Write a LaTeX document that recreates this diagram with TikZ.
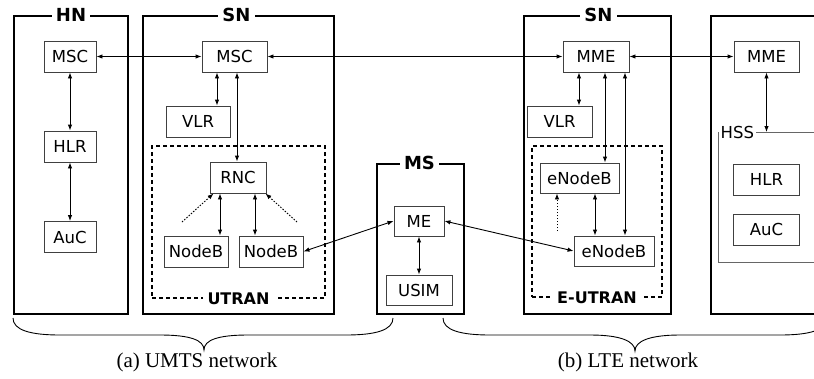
\documentclass[tikz,border=0pt]{standalone}
\usepackage{fontspec}
\usetikzlibrary{arrows.meta,calc,positioning}
\newfontfamily\boxfont{DejaVu Sans}
\newfontfamily\capfont{Liberation Serif}
\tikzset{
  >={Latex[length=6pt,width=4.5pt]},
  net/.style={draw, line width=2pt, anchor=north west, inner sep=0pt},
  netname/.style={fill=white, inner xsep=4pt, inner ysep=1pt, font=\boxfont\bfseries\fontsize{18}{20}\selectfont},
  ran/.style={draw, line width=2pt, dash pattern=on 4pt off 3pt, anchor=north west, inner sep=0pt},
  ranname/.style={fill=white, inner xsep=5pt, inner ysep=1pt, font=\boxfont\bfseries\fontsize{16}{18}\selectfont},
  blk/.style={draw=black!75, line width=0.9pt, minimum height=31pt, inner sep=0pt, font=\boxfont\fontsize{16.5}{18}\selectfont},
  link/.style={<->, line width=0.9pt},
  hint/.style={->, line width=0.9pt, dash pattern=on 1.5pt off 1.5pt},
}

\begin{document}
\begin{tikzpicture}[x=1pt,y=-1pt]
   \useasboundingbox (0,0) rectangle (814,378);
   \clip (0,0) rectangle (814,378);
   % network domains
   \node[net, minimum width=114pt, minimum height=298pt] (hn_a) at (13,15) {};
   \node[net, minimum width=191pt, minimum height=298pt] (sn_a) at (142,15) {};
   \node[net, minimum width=87pt, minimum height=150pt] (ms) at (376,163) {};
   \node[net, minimum width=147pt, minimum height=298pt] (sn_b) at (523,15) {};
   \node[net, minimum width=130pt, minimum height=298pt] (hn_b) at (710,15) {};
   \node[ran, minimum width=173pt, minimum height=152pt] (utran) at (151,145) {};
   \node[ran, minimum width=130pt, minimum height=151pt] (eutran) at (531,145) {};
   \node[draw=black!60, line width=0.8pt, anchor=north west, minimum width=120pt, minimum height=130pt] (hss) at (718,132) {};

   \node[netname] at (hn_a.north) {HN};
   \node[netname] at ([xshift=-2pt]sn_a.north) {SN};
   \node[netname] at ([xshift=-1pt]ms.north) {MS};
   \node[netname] at ([xshift=1pt]sn_b.north) {SN};
   \node[ranname] at (utran.south) {UTRAN};
   \node[ranname] at (eutran.south) {E-UTRAN};
   \node[fill=white, inner xsep=1.5pt, inner ysep=1pt, anchor=west, font=\boxfont\fontsize{16.5}{18}\selectfont] at ([xshift=1pt]hss.north west) {HSS};

   % entities
   \node[blk, minimum width=52pt] (msc_hn) at (70,56.5) {MSC};
   \node[blk, minimum width=52pt] (hlr_a) at (70,146.5) {HLR};
   \node[blk, minimum width=52pt] (auc_a) at (70,237) {AuC};
   \node[blk, minimum width=65pt] (msc_sn) at (234.5,56.5) {MSC};
   \node[blk, minimum width=64pt] (vlr_a) at (198,121.5) {VLR};
   \node[blk, minimum width=56pt] (rnc) at (238,177.5) {RNC};
   \node[blk, minimum width=64pt] (nodeb_a) at (196,251.5) {NodeB};
   \node[blk, minimum width=64pt] (nodeb_b) at (271,251.5) {NodeB};
   \node[blk, minimum width=50pt, minimum height=30pt] (me) at (419,221) {ME};
   \node[blk, minimum width=66pt, minimum height=30pt] (usim) at (419,290) {USIM};
   \node[blk, minimum width=66pt] (mme_sn) at (596,56.5) {MME};
   \node[blk, minimum width=65pt] (vlr_b) at (559.5,121.5) {VLR};
   \node[blk, minimum width=79pt, minimum height=30pt] (enb_a) at (579.5,178) {eNodeB};
   \node[blk, minimum width=80pt, minimum height=30pt] (enb_b) at (614,251) {eNodeB};
   \node[blk, minimum width=65pt] (mme_hn) at (766.5,56.5) {MME};
   \node[blk, minimum width=66pt] (hlr_b) at (766.5,179.5) {HLR};
   \node[blk, minimum width=66pt] (auc_b) at (766.5,229.5) {AuC};

   \coordinate (hint_a) at (182,222);
   \coordinate (hint_b) at (297,222);
   \coordinate (hint_c) at (557,231);

   \path[link]
    (msc_hn) edge (msc_sn)
    (msc_sn) edge (mme_sn)
    (mme_sn) edge (mme_hn)
    (msc_hn) edge (hlr_a)
    (hlr_a) edge (auc_a)
    (me) edge (usim)
    (nodeb_b.east) edge (me.west)
    (me.east) edge (enb_b.west);
   \draw[link] ([xshift=-17.5pt]msc_sn.south) -- ([xshift=-17.5pt]msc_sn.south |- vlr_a.north);
   \draw[link] ([xshift=2.5pt]msc_sn.south) -- ([xshift=2.5pt]msc_sn.south |- rnc.north);
   \draw[link] ([xshift=-18pt]rnc.south) -- ([xshift=-18pt]rnc.south |- nodeb_a.north);
   \draw[link] ([xshift=17pt]rnc.south) -- ([xshift=17pt]rnc.south |- nodeb_b.north);
   \draw[link] ([xshift=-17pt]mme_sn.south) -- ([xshift=-17pt]mme_sn.south |- vlr_b.north);
   \draw[link] ([xshift=9pt]mme_sn.south) -- ([xshift=9pt]mme_sn.south |- enb_a.north);
   \draw[link] ([xshift=29pt]mme_sn.south) -- ([xshift=29pt]mme_sn.south |- enb_b.north);
   \draw[link] ([xshift=15.5pt]enb_a.south) -- ([xshift=15.5pt]enb_a.south |- enb_b.north);
   \draw[link] (mme_hn) -- (mme_hn |- hss.north);
   \draw[hint] (hint_a) -- ([xshift=4pt]rnc.south west);
   \draw[hint] (hint_b) -- ([xshift=-1pt]rnc.south east);
   \draw[hint] (hint_c) -- (hint_c |- enb_a.south);

   % braces
   \draw[line width=0.9pt] (13,318) .. controls (13,330) and (30,335) .. (60,335) -- (160,335)
     .. controls (190,335) and (204,340) .. (204,350) .. controls (204,340) and (218,335) .. (248,335)
     -- (346,335) .. controls (376,335) and (393,330) .. (393,318);
   \draw[line width=0.9pt] (443,318) .. controls (443,330) and (460,335) .. (490,335) -- (590,335)
     .. controls (620,335) and (635,341) .. (635,351) .. controls (635,341) and (650,335) .. (680,335)
     -- (780,335) .. controls (810,335) and (827,330) .. (827,318);
   \node[font=\capfont\fontsize{21}{24}\selectfont] (cap_a) at (197,362) {(a) UMTS network};
   \node[font=\capfont\fontsize{21}{24}\selectfont] (cap_b) at (628,362) {(b) LTE network};
\end{tikzpicture}
\end{document}
